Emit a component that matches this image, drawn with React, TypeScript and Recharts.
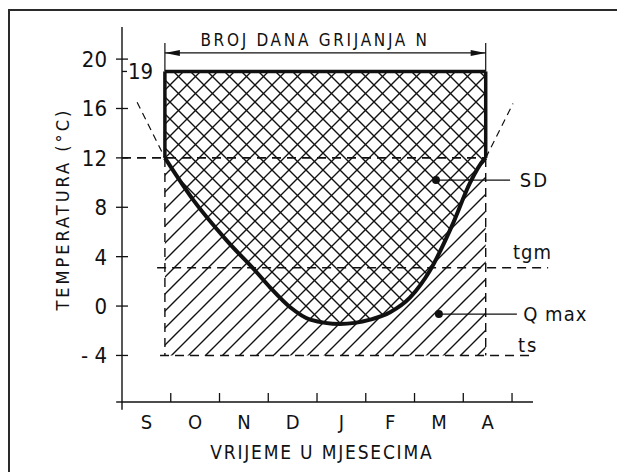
import React from "react";
import {
  ComposedChart,
  Area,
  Line,
  XAxis,
  YAxis,
  ReferenceLine,
  ReferenceDot,
} from "recharts";

const INK = "#111111";
const FONT = "'DejaVu Sans Condensed', 'DejaVu Sans', sans-serif";

// months Sep..Apr, labels sit in the middle of each month, ticks on the edges
const monthLabels = ["S", "O", "N", "D", "J", "F", "M", "A"];
const monthCenters = [0.5, 1.5, 2.5, 3.5, 4.5, 5.5, 6.5, 7.5];
const monthEdges = [1, 2, 3, 4, 5, 6, 7, 8];
const tempTicks = [-4, 0, 4, 8, 12, 16, 19, 20];

// outdoor temperature curve over the heating season (month index, °C)
const curveX = [0.88, 1.46, 2.15, 2.77, 3.04, 3.45, 3.86, 4.47, 5.09, 5.5, 5.91, 6.32, 6.79, 7.14, 7.41, 7.46];
const curveT = [12, 8.6, 5.3, 2.7, 1.5, -0.1, -1.1, -1.45, -1.1, -0.5, 0.7, 2.9, 6.7, 10, 11.8, 12];

const heatStart = 0.88;
const heatEnd = 7.46;
const tInside = 19;
const tHeat = 12;
const tgm = 3.1;
const ts = -4;

const X_DOMAIN: [number, number] = [0, 8.43];
const Y_DOMAIN: [number, number] = [-7.77, 22.6];

function MonthTick(props: any) {
  const { x, y, payload } = props;
  const v = payload.value;
  if (Number.isInteger(v)) {
    return <line x1={x} x2={x} y1={y} y2={y - 9} stroke={INK} strokeWidth={1.3} />;
  }
  const i = monthCenters.indexOf(v);
  return (
    <text x={x} y={y + 27} textAnchor="middle" fontFamily={FONT} fontSize={20} fill={INK}>
      {monthLabels[i]}
    </text>
  );
}

function TempTick(props: any) {
  const { x, y, payload } = props;
  const v = payload.value;
  if (v === tInside) {
    return (
      <g>
        <line x1={x} x2={x + 5} y1={y} y2={y} stroke={INK} strokeWidth={1.3} />
        <text x={x + 6} y={y + 8} textAnchor="start" fontFamily={FONT} fontSize={22} fill={INK}>
          {v}
        </text>
      </g>
    );
  }
  return (
    <g>
      <line x1={x - 6} x2={x + 6} y1={y} y2={y} stroke={INK} strokeWidth={1.3} />
      <text x={x - 15} y={y + 8} textAnchor="end" fontFamily={FONT} fontSize={22} fill={INK}>
        {v < 0 ? `- ${-v}` : v}
      </text>
    </g>
  );
}

function DimArrow(p: any) {
  const { x1, y1, x2, y2 } = p;
  return (
    <g>
      <line x1={x1} y1={y1} x2={x2} y2={y2} stroke={INK} strokeWidth={1.2} />
      <path d={`M${x1},${y1} l15,-3 l0,6 z`} fill={INK} />
      <path d={`M${x2},${y2} l-15,-3 l0,6 z`} fill={INK} />
    </g>
  );
}

const note =
  (value: string, anchor: "start" | "middle" | "end", size: number, extra: any = {}) =>
  (p: any) => {
    const { x, y } = p.viewBox;
    return (
      <text
        x={x}
        y={y}
        textAnchor={anchor}
        dominantBaseline="central"
        fontFamily={FONT}
        fontSize={size}
        fill={INK}
        {...extra}
      >
        {value}
      </text>
    );
  };

export default function App() {
  const data = curveX.map((x, i) => ({ x, t: curveT[i], lo: ts, hi: tInside }));
  const dash = "9 6";

  return (
    <div style={{ position: "absolute", left: 0, top: 0, width: 617, height: 472, background: "#fff", overflow: "hidden" }}>
      <div
        style={{
          position: "absolute",
          left: 8,
          top: 9,
          right: -4,
          bottom: -4,
          borderTop: "2px solid #2a2a2a",
          borderLeft: "2px solid #2a2a2a",
        }}
      />
      <ComposedChart
        width={617}
        height={472}
        data={data}
        margin={{ top: 27, right: 84, bottom: 40, left: 62 }}
        style={{ position: "absolute", left: 0, top: 0 }}
      >
        <defs>
          <pattern id="hatchFwd" patternUnits="userSpaceOnUse" width={17} height={17}>
            <path d="M-2,2 L2,-2 M0,17 L17,0 M15,19 L19,15" stroke={INK} strokeWidth={1.4} />
          </pattern>
          <pattern id="hatchBack" patternUnits="userSpaceOnUse" width={17} height={17}>
            <path d="M-2,15 L2,19 M0,0 L17,17 M15,-2 L19,2" stroke={INK} strokeWidth={1.4} />
          </pattern>
        </defs>
        <XAxis
          dataKey="x"
          type="number"
          domain={X_DOMAIN}
          allowDataOverflow
          ticks={[...monthCenters, ...monthEdges].sort((a, b) => a - b)}
          interval={0}
          tickLine={false}
          tickSize={0}
          tickMargin={0}
          tick={<MonthTick />}
          axisLine={{ stroke: INK, strokeWidth: 1.4 }}
          height={30}
        />
        <YAxis
          type="number"
          domain={Y_DOMAIN}
          allowDataOverflow
          ticks={tempTicks}
          interval={0}
          tickLine={false}
          tickSize={0}
          tickMargin={0}
          tick={<TempTick />}
          axisLine={{ stroke: INK, strokeWidth: 1.4 }}
          width={60}
        />

        <Area
          dataKey={(d: any) => [d.lo, d.hi]}
          type="linear"
          fill="url(#hatchFwd)"
          fillOpacity={1}
          stroke="none"
          isAnimationActive={false}
          activeDot={false}
        />
        <Area
          dataKey={(d: any) => [d.t, d.hi]}
          type="monotone"
          fill="url(#hatchBack)"
          fillOpacity={1}
          stroke="none"
          isAnimationActive={false}
          activeDot={false}
        />

        {/* axis extensions */}
        <ReferenceLine segment={[{ x: 0, y: Y_DOMAIN[0] }, { x: 0, y: -8.4 }]} stroke={INK} strokeWidth={1.4} ifOverflow="visible" />
        <ReferenceLine segment={[{ x: -0.12, y: Y_DOMAIN[0] }, { x: 0, y: Y_DOMAIN[0] }]} stroke={INK} strokeWidth={1.4} ifOverflow="visible" />

        {/* dashed guide lines */}
        <ReferenceLine segment={[{ x: 0, y: tHeat }, { x: heatEnd, y: tHeat }]} stroke={INK} strokeWidth={1.8} strokeDasharray={dash} ifOverflow="visible" />
        <ReferenceLine segment={[{ x: 0.72, y: tgm }, { x: 8.74, y: tgm }]} stroke={INK} strokeWidth={1.4} strokeDasharray={dash} ifOverflow="visible" />
        <ReferenceLine segment={[{ x: 0.78, y: ts }, { x: 8.43, y: ts }]} stroke={INK} strokeWidth={1.4} strokeDasharray={dash} ifOverflow="visible" />
        <ReferenceLine segment={[{ x: heatStart, y: tHeat }, { x: heatStart, y: ts }]} stroke={INK} strokeWidth={1.4} strokeDasharray={dash} ifOverflow="visible" />
        <ReferenceLine segment={[{ x: heatEnd, y: tHeat }, { x: heatEnd, y: ts }]} stroke={INK} strokeWidth={1.4} strokeDasharray={dash} ifOverflow="visible" />
        <ReferenceLine segment={[{ x: 0.31, y: 16.5 }, { x: heatStart, y: tHeat }]} stroke={INK} strokeWidth={1.2} strokeDasharray="7 5" ifOverflow="visible" />
        <ReferenceLine segment={[{ x: heatEnd, y: tHeat }, { x: 8.02, y: 16.4 }]} stroke={INK} strokeWidth={1.2} strokeDasharray="7 5" ifOverflow="visible" />

        {/* heating period box */}
        <ReferenceLine segment={[{ x: heatStart, y: tInside }, { x: heatEnd, y: tInside }]} stroke={INK} strokeWidth={3.5} ifOverflow="visible" />
        <ReferenceLine segment={[{ x: heatStart, y: tHeat }, { x: heatStart, y: tInside }]} stroke={INK} strokeWidth={3.5} ifOverflow="visible" />
        <ReferenceLine segment={[{ x: heatEnd, y: tHeat }, { x: heatEnd, y: tInside }]} stroke={INK} strokeWidth={3.5} ifOverflow="visible" />
        <ReferenceLine segment={[{ x: heatStart, y: tInside }, { x: heatStart, y: 21.3 }]} stroke={INK} strokeWidth={1.2} ifOverflow="visible" />
        <ReferenceLine segment={[{ x: heatEnd, y: tInside }, { x: heatEnd, y: 21.3 }]} stroke={INK} strokeWidth={1.2} ifOverflow="visible" />
        <ReferenceLine segment={[{ x: heatStart, y: 20.5 }, { x: heatEnd, y: 20.5 }]} shape={DimArrow} ifOverflow="visible" />

        <Line
          dataKey="t"
          type="monotone"
          stroke={INK}
          strokeWidth={4}
          dot={false}
          activeDot={false}
          isAnimationActive={false}
        />

        {/* leaders */}
        <ReferenceLine segment={[{ x: 6.44, y: 10.2 }, { x: 7.96, y: 10.2 }]} stroke={INK} strokeWidth={1.3} ifOverflow="visible" />
        <ReferenceLine segment={[{ x: 6.5, y: -0.65 }, { x: 8.1, y: -0.65 }]} stroke={INK} strokeWidth={1.3} ifOverflow="visible" />
        <ReferenceDot x={6.44} y={10.2} r={4} fill={INK} stroke="none" ifOverflow="visible" />
        <ReferenceDot x={6.5} y={-0.65} r={4} fill={INK} stroke="none" ifOverflow="visible" />

        {/* texts */}
        <ReferenceDot x={3.96} y={21.54} r={0} fill="none" stroke="none" ifOverflow="visible"
          label={note("BROJ DANA GRIJANJA N", "middle", 17, { letterSpacing: 2.7 })} />
        <ReferenceDot x={8.16} y={10.2} r={0} fill="none" stroke="none" ifOverflow="visible"
          label={note("SD", "start", 20, { letterSpacing: 2 })} />
        <ReferenceDot x={8.02} y={4.37} r={0} fill="none" stroke="none" ifOverflow="visible"
          label={note("tgm", "start", 20, { letterSpacing: 1 })} />
        <ReferenceDot x={8.23} y={-0.65} r={0} fill="none" stroke="none" ifOverflow="visible"
          label={note("Q max", "start", 20, { letterSpacing: 1 })} />
        <ReferenceDot x={8.12} y={-3.16} r={0} fill="none" stroke="none" ifOverflow="visible"
          label={note("ts", "start", 20, { letterSpacing: 2 })} />
        <ReferenceDot x={4.1} y={-11.8} r={0} fill="none" stroke="none" ifOverflow="visible"
          label={note("VRIJEME U MJESECIMA", "middle", 19, { letterSpacing: 1.8 })} />
        <ReferenceDot x={-1.23} y={7.85} r={0} fill="none" stroke="none" ifOverflow="visible"
          label={(p: any) => (
            <text
              x={p.viewBox.x}
              y={p.viewBox.y}
              transform={`rotate(-90, ${p.viewBox.x}, ${p.viewBox.y})`}
              textAnchor="middle"
              dominantBaseline="central"
              fontFamily={FONT}
              fontSize={18}
              letterSpacing={3}
              fill={INK}
            >
              TEMPERATURA (°C)
            </text>
          )} />
      </ComposedChart>
    </div>
  );
}
